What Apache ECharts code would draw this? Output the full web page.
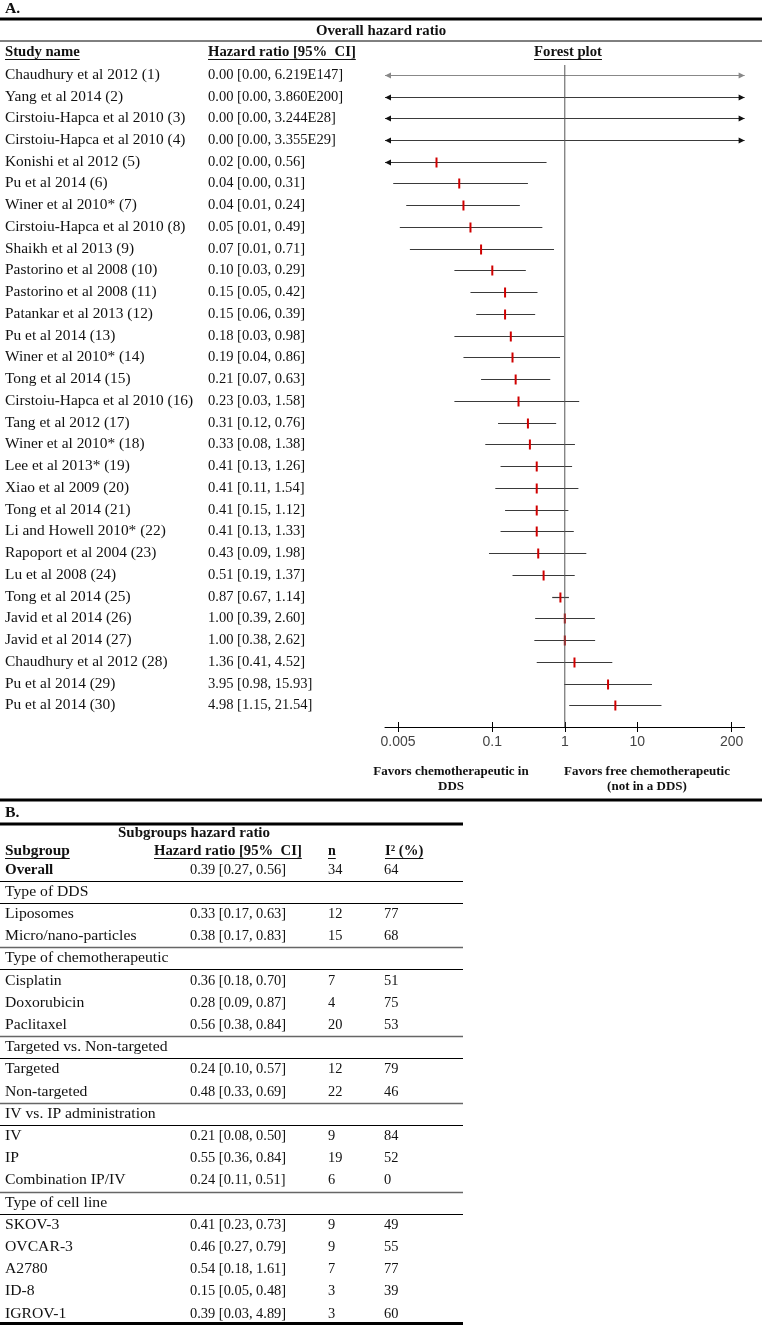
<!DOCTYPE html>
<html><head><meta charset="utf-8">
<script src="https://cdn.jsdelivr.net/npm/echarts@6/dist/echarts.min.js"></script>
<style>html,body{margin:0;padding:0;background:#fff;}#c{width:762px;height:1325px;}</style>
</head><body><div id="c"></div>
<script>
// ---------- Panel A data ----------
const studyNames = [
  'Chaudhury et al 2012 (1)', 'Yang et al 2014 (2)', 'Cirstoiu-Hapca et al 2010 (3)', 'Cirstoiu-Hapca et al 2010 (4)',
  'Konishi et al 2012 (5)', 'Pu et al 2014 (6)', 'Winer et al 2010* (7)', 'Cirstoiu-Hapca et al 2010 (8)',
  'Shaikh et al 2013 (9)', 'Pastorino et al 2008 (10)', 'Pastorino et al 2008 (11)', 'Patankar et al 2013 (12)',
  'Pu et al 2014 (13)', 'Winer et al 2010* (14)', 'Tong et al 2014 (15)', 'Cirstoiu-Hapca et al 2010 (16)',
  'Tang et al 2012 (17)', 'Winer et al 2010* (18)', 'Lee et al 2013* (19)', 'Xiao et al 2009 (20)',
  'Tong et al 2014 (21)', 'Li and Howell 2010* (22)', 'Rapoport et al 2004 (23)', 'Lu et al 2008 (24)',
  'Tong et al 2014 (25)', 'Javid et al 2014 (26)', 'Javid et al 2014 (27)', 'Chaudhury et al 2012 (28)',
  'Pu et al 2014 (29)', 'Pu et al 2014 (30)'
];
const studyHR = [0, 0, 0, 0, 0.017, 0.035, 0.04, 0.05, 0.07, 0.10, 0.15, 0.15, 0.18, 0.19, 0.21, 0.23,
  0.31, 0.33, 0.41, 0.41, 0.41, 0.41, 0.43, 0.51, 0.87, 1.00, 1.00, 1.36, 3.95, 4.98];
const studyLow = [0, 0, 0, 0, 0.001, 0.0043, 0.0065, 0.0053, 0.0073, 0.03, 0.05, 0.06, 0.03, 0.04, 0.07, 0.03,
  0.12, 0.08, 0.13, 0.11, 0.15, 0.13, 0.09, 0.19, 0.67, 0.39, 0.38, 0.41, 0.98, 1.15];
const studyHigh = [6.219e147, 3.860e200, 3.244e28, 3.355e29, 0.56, 0.31, 0.24, 0.49, 0.71, 0.29, 0.42, 0.39,
  0.98, 0.86, 0.63, 1.58, 0.76, 1.38, 1.26, 1.54, 1.12, 1.33, 1.98, 1.37, 1.14, 2.60, 2.62, 4.52, 15.93, 21.54];
const axisTicks = [0.005, 0.1, 1, 10, 200];

// ---------- Panel B data ----------
const subgroupLabels = ['Overall', 'Type of DDS', 'Liposomes', 'Micro/nano-particles', 'Type of chemotherapeutic',
  'Cisplatin', 'Doxorubicin', 'Paclitaxel', 'Targeted vs. Non-targeted', 'Targeted', 'Non-targeted',
  'IV vs. IP administration', 'IV', 'IP', 'Combination IP/IV', 'Type of cell line',
  'SKOV-3', 'OVCAR-3', 'A2780', 'ID-8', 'IGROV-1'];
const subgroupHR =   [0.39, null, 0.33, 0.38, null, 0.36, 0.28, 0.56, null, 0.24, 0.48, null, 0.21, 0.55, 0.24, null, 0.41, 0.46, 0.54, 0.15, 0.39];
const subgroupLow =  [0.27, null, 0.17, 0.17, null, 0.18, 0.09, 0.38, null, 0.10, 0.33, null, 0.08, 0.36, 0.11, null, 0.23, 0.27, 0.18, 0.05, 0.03];
const subgroupHigh = [0.56, null, 0.63, 0.83, null, 0.70, 0.87, 0.84, null, 0.57, 0.69, null, 0.50, 0.84, 0.51, null, 0.73, 0.79, 1.61, 0.48, 4.89];
const subgroupN =    [34, null, 12, 15, null, 7, 4, 20, null, 12, 22, null, 9, 19, 6, null, 9, 9, 7, 3, 3];
const subgroupI2 =   [64, null, 77, 68, null, 51, 75, 53, null, 79, 46, null, 84, 52, 0, null, 49, 55, 77, 39, 60];

// ---------- helpers ----------
const SERIF = "'Liberation Serif','Times New Roman',serif";
const SANS = "'Liberation Sans',Arial,sans-serif";
const INK = '#111';
const fmt = v => v >= 1000 ? v.toExponential(3).replace('e+', 'E') : v.toFixed(2);
const ciText = (h, l, u) => fmt(h) + ' [' + fmt(l) + ', ' + fmt(u) + ']';
const mctx = document.createElement('canvas').getContext('2d');
function textWidth(t, size, bold) { mctx.font = (bold ? 'bold ' : '') + size + 'px ' + SERIF; return mctx.measureText(t).width; }
function T(text, x, y, o) {
  o = o || {};
  return { type: 'text', x: x, y: y, scaleX: o.sx || 1, silent: true,
    style: { text: text, fontSize: o.size || 14, fontFamily: SERIF, fontWeight: o.bold ? 'bold' : 'normal',
      fill: o.fill || INK, align: o.align || 'left', verticalAlign: 'middle' } };
}
function L(x1, y1, x2, y2, w, c) {
  return { type: 'line', silent: true, shape: { x1: x1, y1: y1, x2: x2, y2: y2 }, style: { stroke: c || '#000', lineWidth: w || 1 } };
}
function UT(text, x, y, o) { // underlined text
  o = o || {};
  const w = textWidth(text, o.size || 14, o.bold) * (o.sx || 1);
  let x0 = x;
  if (o.align === 'center') x0 = x - w / 2;
  return [T(text, x, y, o), L(x0, y + 7.5, x0 + w, y + 7.5, 1, INK)];
}

const X_MIN = -2.48, X_MAX = 2.48;
const Y_MIN = 0.55, Y_MAX = 31.0;
const tickLogs = axisTicks.map(Math.log10);

// ---------- graphic elements ----------
const g = [];
// Panel A frame
g.push(T('A.', 5, 9, { bold: true, size: 15, sx: 1.05 }));
g.push(L(0, 19, 762, 19, 3));
g.push(T('Overall hazard ratio', 381, 31, { bold: true, align: 'center', sx: 1.06 }));
g.push(L(0, 41, 762, 41, 1));
g.push(...UT('Study name', 5, 52, { bold: true, sx: 1.05 }));
g.push(...UT('Hazard ratio [95%  CI]', 208, 52, { bold: true, sx: 1.05 }));
g.push(...UT('Forest plot', 568, 52, { bold: true, align: 'center', sx: 1.05 }));
g.push(T('Favors chemotherapeutic in', 451, 772, { bold: true, size: 13, align: 'center' }));
g.push(T('DDS', 451, 787, { bold: true, size: 13, align: 'center' }));
g.push(T('Favors free chemotherapeutic', 647, 772, { bold: true, size: 13, align: 'center' }));
g.push(T('(not in a DDS)', 647, 787, { bold: true, size: 13, align: 'center' }));
g.push(L(0, 800, 762, 800, 3));

// Panel B table
g.push(T('B.', 5, 813, { bold: true, size: 15, sx: 1.05 }));
g.push(L(0, 824, 463, 824, 3));
g.push(T('Subgroups hazard ratio', 194, 833, { bold: true, align: 'center', sx: 1.07 }));
g.push(...UT('Subgroup', 5, 851, { bold: true, sx: 1.1 }));
g.push(...UT('Hazard ratio [95%  CI]', 154, 851, { bold: true, sx: 1.05 }));
g.push(...UT('n', 328, 851, { bold: true }));
g.push(...UT('I² (%)', 385, 851, { bold: true, sx: 1.05 }));
const rowY = i => 870 + i * 22.2;
subgroupLabels.forEach((lab, i) => {
  const y = rowY(i);
  const isHead = subgroupHR[i] === null;
  g.push(T(lab, 5, y, { bold: i === 0, sx: i === 0 ? 1.07 : 1.12 }));
  if (!isHead) {
    g.push(T(ciText(subgroupHR[i], subgroupLow[i], subgroupHigh[i]), 190, y, { sx: 1.03 }));
    g.push(T(String(subgroupN[i]), 328, y, { sx: 1.03 }));
    g.push(T(String(subgroupI2[i]), 384, y, { sx: 1.03 }));
  } else {
    g.push(L(0, Math.round(y - 11.5) + 0.5, 463, Math.round(y - 11.5) + 0.5, i === 1 ? 1 : 1.5, i === 1 ? '#000' : '#666'));
    g.push(L(0, Math.round(y + 10.5) + 0.5, 463, Math.round(y + 10.5) + 0.5, 1, '#000'));
  }
});
g.push(L(0, 1323.5, 463, 1323.5, 3));

// ---------- forest plot ----------
const forestData = studyNames.map((n, i) => [i + 1, studyLow[i], studyHigh[i], studyHR[i]]);
const lg = v => v > 0 ? Math.log10(v) : -Infinity;

function renderRow(params, api) {
  const i = params.dataIndex;
  const row = api.value(0);
  const llo = lg(api.value(1)), lhi = lg(api.value(2)), lhr = lg(api.value(3));
  const yc = Math.round(api.coord([0, row])[1]) + 0.5;
  const x1 = api.coord([Math.max(llo, X_MIN), row])[0];
  const x2 = api.coord([Math.min(lhi, X_MAX), row])[0];
  const col = i === 0 ? '#888' : '#3a3a3a';
  const ch = [
    { type: 'text', x: 5, y: yc, scaleX: 1.1, silent: true,
      style: { text: studyNames[i], fontSize: 14, fontFamily: SERIF, fill: INK, align: 'left', verticalAlign: 'middle' } },
    { type: 'text', x: 208, y: yc, scaleX: 1.04, silent: true,
      style: { text: ciText(studyHR[i], studyLow[i], studyHigh[i]), fontSize: 14, fontFamily: SERIF, fill: INK, align: 'left', verticalAlign: 'middle' } },
    { type: 'line', shape: { x1: x1, y1: yc, x2: x2, y2: yc }, style: { stroke: col, lineWidth: 1.2 } }
  ];
  const ac = i === 0 ? '#888' : '#111';
  if (llo < X_MIN) ch.push({ type: 'polygon', shape: { points: [[x1, yc], [x1 + 6, yc - 3], [x1 + 6, yc + 3]] }, style: { fill: ac } });
  if (lhi > X_MAX) ch.push({ type: 'polygon', shape: { points: [[x2, yc], [x2 - 6, yc - 3], [x2 - 6, yc + 3]] }, style: { fill: ac } });
  if (lhr >= X_MIN && lhr <= X_MAX) {
    const xm = api.coord([lhr, row])[0];
    ch.push({ type: 'rect', shape: { x: xm - 1, y: yc - 5, width: 2, height: 10 }, style: { fill: '#d00000' } });
  }
  return { type: 'group', children: ch };
}

const tickFmt = v => { const k = tickLogs.findIndex(t => Math.abs(t - v) < 1e-6); return k >= 0 ? String(axisTicks[k]) : ''; };

const option = {
  animation: false,
  backgroundColor: '#fff',
  grid: { left: 385, top: 65, width: 359.6, height: 662, containLabel: false },
  xAxis: [
    { type: 'value', position: 'bottom', min: X_MIN, max: X_MAX, splitLine: { show: false },
      axisLine: { show: true, lineStyle: { color: '#000', width: 1 } },
      axisTick: { show: true, customValues: tickLogs, length: 5, lineStyle: { color: '#000' } },
      axisLabel: { show: true, customValues: tickLogs, formatter: tickFmt, margin: 8,
        fontFamily: SANS, fontSize: 14, color: '#444' } },
    { type: 'value', position: 'bottom', min: X_MIN, max: X_MAX, splitLine: { show: false },
      axisLine: { show: false }, axisLabel: { show: false },
      axisTick: { show: true, inside: true, customValues: tickLogs, length: 5, lineStyle: { color: '#000' } } }
  ],
  yAxis: { type: 'value', inverse: true, min: Y_MIN, max: Y_MAX, show: false },
  series: [
    { type: 'line', xAxisIndex: 0, data: [[0, Y_MIN], [0, Y_MAX]], symbol: 'none', silent: true,
      lineStyle: { color: '#555', width: 1 } },
    { type: 'custom', xAxisIndex: 0, renderItem: renderRow, data: forestData, encode: { x: 3, y: 0 }, clip: false, silent: true }
  ],
  graphic: { elements: g }
};
const chart = echarts.init(document.getElementById('c'), null, { renderer: 'canvas' });
chart.setOption(option);
</script>
</body></html>
